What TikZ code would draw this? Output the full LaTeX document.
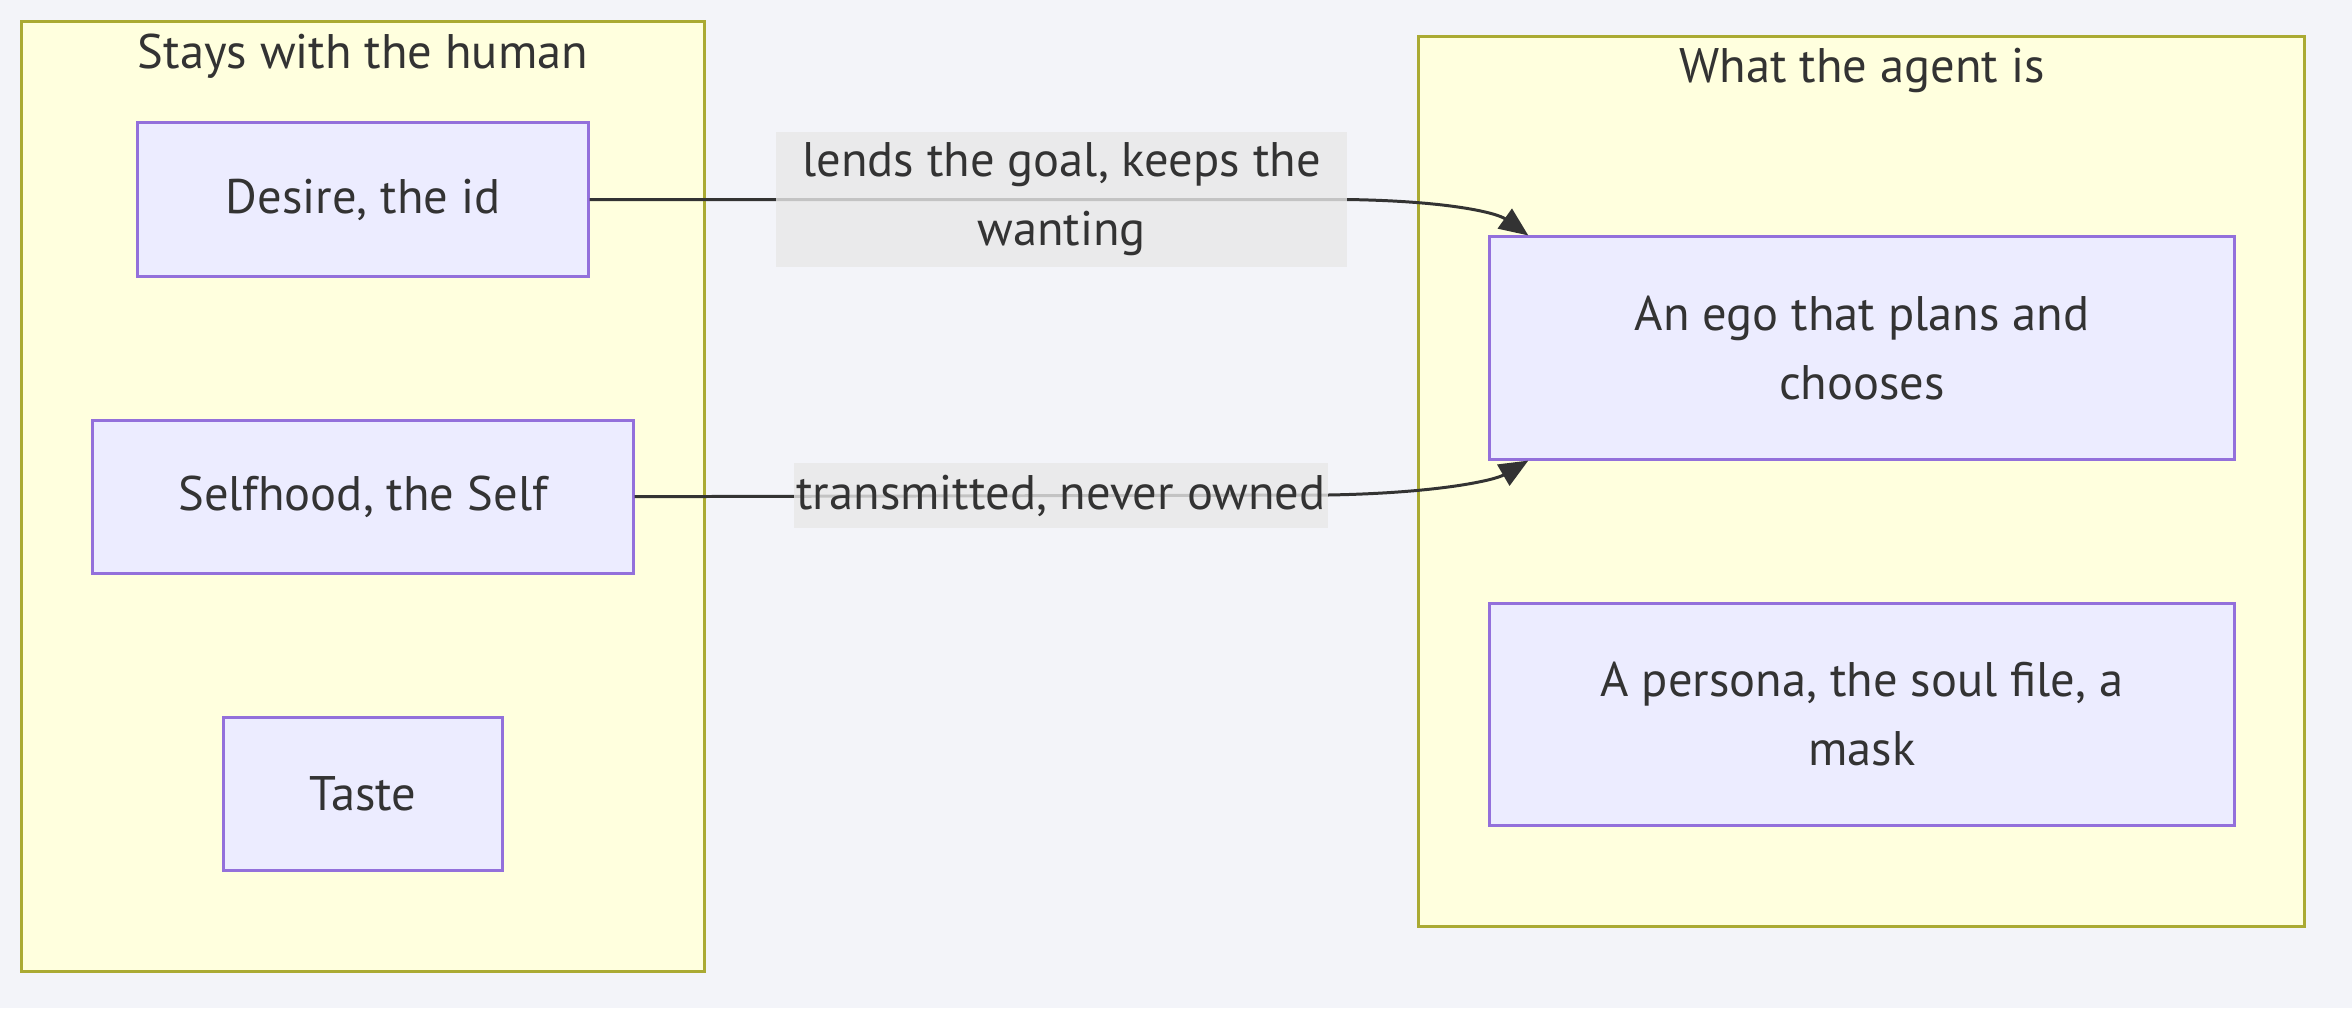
\documentclass[tikz,border=0pt]{standalone}
\usepackage{fontspec}
\usepackage{tikz}
\usepackage{xcolor}
\usetikzlibrary{arrows.meta, positioning}
\setmainfont{PT Sans}
\definecolor{pagebg}{RGB}{243,244,249}
\definecolor{groupfill}{RGB}{255,255,222}
\definecolor{groupline}{RGB}{170,170,51}
\definecolor{nodefill}{RGB}{236,236,255}
\definecolor{nodeline}{RGB}{147,112,219}
\definecolor{tagfill}{RGB}{232,232,232}
\definecolor{ink}{RGB}{51,51,51}

\begin{document}
\begin{tikzpicture}[
		x=0.01cm, y=-0.01cm,
		font=\fontsize{13.8}{19.6}\selectfont,
		group/.style={draw=groupline, fill=groupfill, line width=0.85pt, inner sep=0pt},
		title/.style={text=ink},
		box/.style={draw=nodeline, fill=nodefill, line width=0.85pt,
			minimum height=1.53cm, align=center, text=ink},
		tag/.style={fill=tagfill, fill opacity=0.8, text opacity=1, text=ink,
			align=center, inner sep=0pt},
		arrow/.style={-{Triangle[length=0.29cm, width=0.24cm]}, line width=0.85pt, draw=ink},
		node distance=1.41cm
	]
		\fill[pagebg] (0,0) rectangle (2352,1008);
		\useasboundingbox (0,0) rectangle (2352,1008);

		% the two groups
		\node[group, minimum width=6.82cm, minimum height=9.49cm] (human) at (363,496.5) {};
		\node[title] (humantitle) at (363,56) {Stays with the human};
		\node[group, minimum width=8.85cm, minimum height=8.89cm] (agent) at (1861.5,481.5) {};
		\node[title] (agenttitle) at (1862,70) {What the agent is};

		% left column
		\node[box, minimum width=4.5cm] (desire) at (363,199.5) {Desire, the id};
		\node[box, minimum width=5.4cm, below=of desire] (self) {Selfhood, the Self};
		\node[box, minimum width=2.78cm, below=of self] (taste) {Taste};

		% right column
		\node[box, minimum width=7.44cm, minimum height=2.22cm] (ego) at (1862,348) {An ego that plans and\\chooses};
		\node[box, minimum width=7.44cm, minimum height=2.22cm, below=of ego] (persona) {A persona, the soul file, a\\mask};

		% edges
		\coordinate (lendtip) at ([xshift=0.4cm]ego.north west);
		\coordinate (sendtip) at ([xshift=0.4cm]ego.south west);
		\draw[arrow] (desire.east) -- (1347,199.5) .. controls (1450,201) and (1497,213) .. (lendtip);
		\draw[arrow] (self.east) -- (1328,495) .. controls (1440,493) and (1495,480) .. (sendtip);

		\node[tag, minimum width=5.71cm, minimum height=1.35cm] (lend) at (1061.5,199.5) {lends the goal, keeps the\\wanting};
		\node[tag, minimum width=5.34cm, minimum height=0.65cm] (send) at (1061,495.5) {transmitted, never owned};
	\end{tikzpicture}
\end{document}
